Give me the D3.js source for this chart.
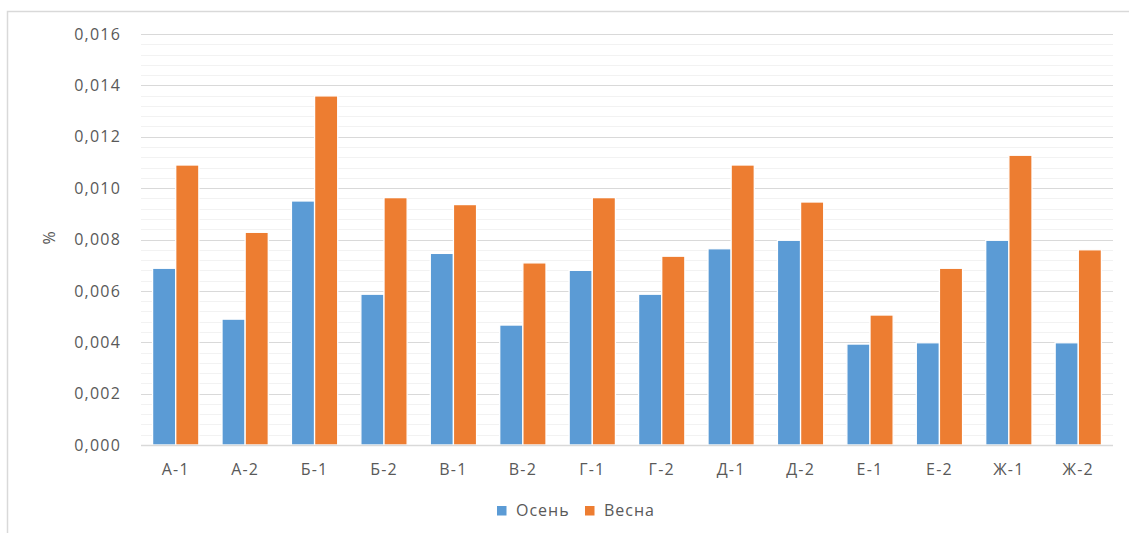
<!DOCTYPE html>
<html>
<head>
<meta charset="utf-8">
<script src="https://cdn.jsdelivr.net/npm/d3@7"></script>
<style>
  html, body { margin: 0; padding: 0; background: #fff; }
  svg text { font-family: "Open Sans", "Liberation Sans", sans-serif; fill: #595959; }
</style>
</head>
<body>
<svg id="chart" width="1129" height="533"></svg>
<script>
// Sampling sites
const categories = ["А-1", "А-2", "Б-1", "Б-2", "В-1", "В-2", "Г-1", "Г-2", "Д-1", "Д-2", "Е-1", "Е-2", "Ж-1", "Ж-2"];
// Content, % — autumn and spring sampling
const autumn = [0.00688, 0.00490, 0.00950, 0.00587, 0.00746, 0.00467, 0.00680, 0.00587, 0.00764, 0.00797, 0.00393, 0.00398, 0.00797, 0.00398];
const spring = [0.01090, 0.00828, 0.01359, 0.00963, 0.00936, 0.00709, 0.00963, 0.00735, 0.01090, 0.00946, 0.00506, 0.00688, 0.01128, 0.00760];
const seriesNames = ["Осень", "Весна"];
const seriesColors = ["#5b9bd5", "#ed7d31"];
const yTicks = [0, 0.002, 0.004, 0.006, 0.008, 0.010, 0.012, 0.014, 0.016];
const yMinorStep = 0.0004;

const svg = d3.select("#chart");
const W = 1129, H = 533;
const plot = { left: 141, right: 1113, top: 34, bottom: 445 };

// Chart frame
svg.append("path")
  .attr("d", `M7.5,${H} V11.5 H${W}`)
  .attr("fill", "none")
  .attr("stroke", "#d9d9d9")
  .attr("stroke-width", 1.5);

const y = d3.scaleLinear().domain([0, 0.016]).range([plot.bottom, plot.top]);
const x0 = d3.scaleBand().domain(categories).range([plot.left, plot.right]).paddingInner(0).paddingOuter(0);
const x1 = d3.scaleBand().domain(seriesNames).range([0, x0.bandwidth()]).paddingInner(0).paddingOuter(0.5);

const locale = d3.formatLocale({ decimal: ",", thousands: " ", grouping: [3], currency: ["", ""] });
const fmt = locale.format(".3f");

// Minor gridlines
const minor = d3.range(0, 0.016 + 1e-9, yMinorStep).filter(v => Math.abs(v / 0.002 - Math.round(v / 0.002)) > 1e-6);
svg.append("g").selectAll("line").data(minor).join("line")
  .attr("x1", plot.left).attr("x2", plot.right)
  .attr("y1", d => Math.round(y(d)) + 0.5).attr("y2", d => Math.round(y(d)) + 0.5)
  .attr("stroke", "#f2f2f2").attr("stroke-width", 1);

// Major gridlines
svg.append("g").selectAll("line").data(yTicks).join("line")
  .attr("x1", plot.left).attr("x2", plot.right)
  .attr("y1", d => Math.round(y(d)) + 0.5).attr("y2", d => Math.round(y(d)) + 0.5)
  .attr("stroke", "#d9d9d9").attr("stroke-width", 1.2);

// Y axis labels
const yAxis = d3.axisLeft(y).tickValues(yTicks).tickFormat(fmt).tickSize(0).tickPadding(0);
const gy = svg.append("g").attr("transform", `translate(121,0)`).call(yAxis);
gy.select(".domain").remove();
gy.selectAll("text").attr("font-size", 16).style("letter-spacing", "1.2px")
  .attr("fill", "#595959").attr("font-family", "Open Sans");

// Y axis title
svg.append("text")
  .attr("transform", `translate(55,238) rotate(-90)`)
  .attr("text-anchor", "middle")
  .attr("font-size", 16)
  .text("%");

// Bars
const groups = svg.append("g").selectAll("g").data(categories).join("g")
  .attr("transform", d => `translate(${x0(d)},0)`);
groups.selectAll("rect")
  .data((d, i) => [
    { s: seriesNames[0], v: autumn[i], c: seriesColors[0] },
    { s: seriesNames[1], v: spring[i], c: seriesColors[1] }
  ])
  .join("rect")
  .attr("x", d => x1(d.s))
  .attr("width", x1.bandwidth())
  .attr("y", d => y(d.v))
  .attr("height", d => y(0) - y(d.v))
  .attr("fill", d => d.c)
  .attr("stroke", "#ffffff")
  .attr("stroke-width", 1.3);

// Baseline
svg.append("line")
  .attr("x1", plot.left).attr("x2", plot.right)
  .attr("y1", plot.bottom + 0.5).attr("y2", plot.bottom + 0.5)
  .attr("stroke", "#d9d9d9").attr("stroke-width", 1.5);

// X axis labels
const xAxis = d3.axisBottom(x0).tickSize(0).tickPadding(0);
const gx = svg.append("g").attr("transform", `translate(0,475)`).call(xAxis);
gx.select(".domain").remove();
gx.selectAll("text").attr("font-size", 16).attr("dy", 0).style("letter-spacing", "1.2px")
  .attr("fill", "#595959").attr("font-family", "Open Sans");

// Legend
const legendItems = [
  { name: seriesNames[0], color: seriesColors[0], x: 497 },
  { name: seriesNames[1], color: seriesColors[1], x: 585 }
];
const lg = svg.append("g").selectAll("g").data(legendItems).join("g")
  .attr("transform", d => `translate(${d.x},506)`);
lg.append("rect").attr("width", 9.5).attr("height", 9.5).attr("fill", d => d.color);
lg.append("text").attr("x", 19).attr("y", 10).attr("font-size", 16)
  .style("letter-spacing", "1px").text(d => d.name);
</script>
</body>
</html>
